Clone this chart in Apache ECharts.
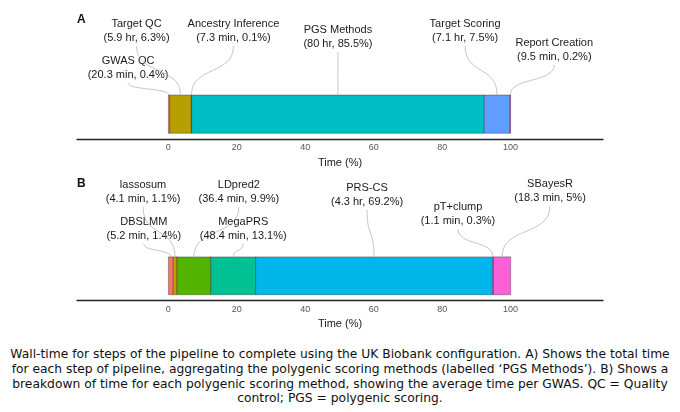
<!DOCTYPE html>
<html>
<head>
<meta charset="utf-8">
<script src="https://cdn.jsdelivr.net/npm/echarts@6/dist/echarts.min.js"></script>
<style>
  body { margin: 0; background: #fff; }
  #chart { position: absolute; left: 0; top: 0; width: 680px; height: 340px; }
  #caption {
    position: absolute; left: 0; top: 347px; width: 680px;
    text-align: center; font-family: "DejaVu Sans", sans-serif;
    font-size: 12.3px; line-height: 14.8px; color: #111; white-space: nowrap;
  }
</style>
</head>
<body>
<div id="chart"></div>
<div id="caption">Wall-time for steps of the pipeline to complete using the UK Biobank configuration. A) Shows the total time<br>for each step of pipeline, aggregating the polygenic scoring methods (labelled ‘PGS Methods’). B) Shows a<br>breakdown of time for each polygenic scoring method, showing the average time per GWAS. QC = Quality<br>control; PGS = polygenic scoring.</div>
<script>
// panel A: pipeline steps
var stepsA = ['GWAS QC', 'Target QC', 'Ancestry Inference', 'PGS Methods', 'Target Scoring', 'Report Creation']
var timesA = ['20.3 min', '5.9 hr', '7.3 min', '80 hr', '7.1 hr', '9.5 min']
var pctA = [0.4, 6.3, 0.1, 85.5, 7.5, 0.2]

// panel B: scoring methods
var methodsB = ['DBSLMM', 'lassosum', 'LDpred2', 'MegaPRS', 'PRS-CS', 'pT+clump', 'SBayesR']
var timesB = ['5.2 min', '4.1 min', '36.4 min', '48.4 min', '4.3 hr', '1.1 min', '18.3 min']
var pctB = [1.4, 1.1, 9.9, 13.1, 69.2, 0.3, 5]

var tickLabels = [0, 20, 40, 60, 80, 100]

// layout: label offsets (px) from the top-centre of each segment
var colorsA = ['#F8766D', '#B79F00', '#00BA38', '#00BFC4', '#619CFF', '#F564E3']
var colorsB = ['#F8766D', '#C49A00', '#53B400', '#00C094', '#00B6EB', '#A58AFF', '#FB61D7']
var offsetsA = [[-41, -34], [-44, -71], [42, -71], [0, -65], [-32, -71.5], [44, -52]]
var offsetsB = [[-27, -35], [-32, -72], [45, -72], [10, -35], [-7, -69], [-35, -50], [48, -73]]

var font = 'Liberation Sans, Arial, sans-serif'

function stackData(pcts) {
    var out = []
    var acc = 0
    for (var i = 0; i < pcts.length; i++) {
        out.push([acc, acc + pcts[i], 0])
        acc += pcts[i]
    }
    return out
}

function makeRender(names, times, pcts, colors, offsets) {
    return function (params, api) {
        var i = params.dataIndex
        var p0 = api.coord([api.value(0), 0])
        var p1 = api.coord([api.value(1), 0])
        var h = api.size([0, 1])[1] * 0.76
        var top = p0[1] - h / 2
        var cx = (p0[0] + p1[0]) / 2
        var lx = cx + offsets[i][0]
        var ly = top + offsets[i][1]
        var y1 = ly + 22
        var dy = top - y1
        return {
            type: 'group',
            children: [
                {
                    type: 'rect',
                    shape: { x: p0[0], y: top, width: p1[0] - p0[0], height: h },
                    style: { fill: colors[i], stroke: 'rgba(40,40,40,0.55)', lineWidth: 0.7 }
                },
                {
                    type: 'bezierCurve',
                    shape: { x1: lx, y1: y1, x2: cx, y2: top,
                        cpx1: lx, cpy1: y1 + dy * 0.6, cpx2: cx, cpy2: top - dy * 0.6 },
                    style: { stroke: '#adadad', lineWidth: 0.7, fill: null }
                },
                {
                    type: 'text',
                    x: lx, y: ly + 7,
                    style: {
                        text: names[i] + '\n(' + times[i] + ', ' + pcts[i] + '%)',
                        align: 'center', verticalAlign: 'middle', lineHeight: 14,
                        fontFamily: font, fontSize: 11, fill: '#1a1a1a'
                    }
                }
            ]
        }
    }
}

function xAxisFor(gridIndex) {
    return {
        type: 'value', gridIndex: gridIndex, min: -26.7, max: 127,
        name: 'Time (%)', nameLocation: 'middle', nameGap: 18,
        nameTextStyle: { fontFamily: font, fontSize: 11, color: '#1a1a1a' },
        axisLine: { show: true, lineStyle: { color: '#222', width: 1.3 } },
        axisTick: { show: false },
        splitLine: { show: false },
        axisLabel: { customValues: tickLabels, margin: 4, fontSize: 9, color: '#555', fontFamily: font }
    }
}

var myChart = echarts.init(document.getElementById('chart'), null, { renderer: 'canvas' })

var option = {
    animation: false,
    title: [
        { text: 'A', left: 72, top: 9, textStyle: { fontSize: 12, fontWeight: 'bold', color: '#111', fontFamily: font } },
        { text: 'B', left: 72, top: 173, textStyle: { fontSize: 12, fontWeight: 'bold', color: '#111', fontFamily: font } }
    ],
    grid: [
        { left: 77, width: 526, top: 89, height: 50.3 },
        { left: 77, width: 526, top: 250.9, height: 49.8 }
    ],
    xAxis: [xAxisFor(0), xAxisFor(1)],
    yAxis: [
        { type: 'category', gridIndex: 0, data: ['A'], show: false },
        { type: 'category', gridIndex: 1, data: ['B'], show: false }
    ],
    series: [
        {
            type: 'custom', xAxisIndex: 0, yAxisIndex: 0, clip: false,
            renderItem: makeRender(stepsA, timesA, pctA, colorsA, offsetsA),
            encode: { x: [0, 1], y: 2 },
            data: stackData(pctA)
        },
        {
            type: 'custom', xAxisIndex: 1, yAxisIndex: 1, clip: false,
            renderItem: makeRender(methodsB, timesB, pctB, colorsB, offsetsB),
            encode: { x: [0, 1], y: 2 },
            data: stackData(pctB)
        }
    ]
}

myChart.setOption(option)
window.addEventListener('resize', myChart.resize)
</script>
</body>
</html>
